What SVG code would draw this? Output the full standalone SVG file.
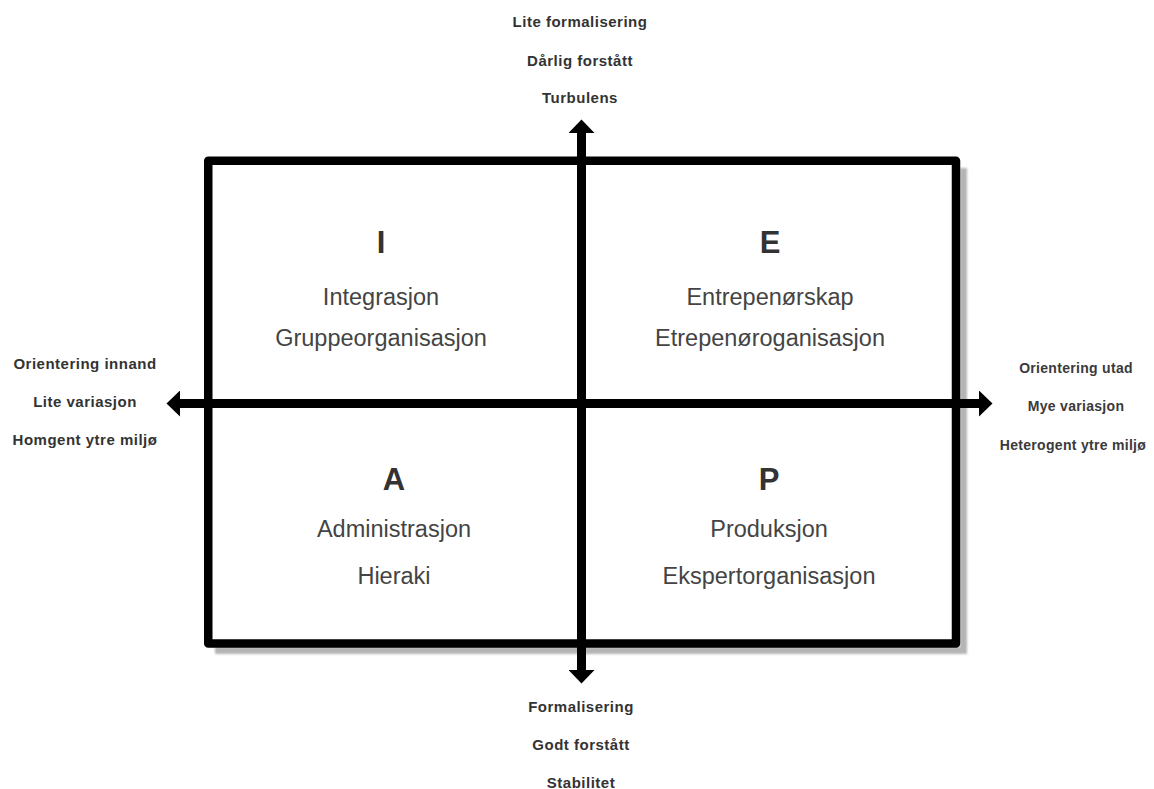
<svg xmlns="http://www.w3.org/2000/svg" width="1154" height="789" viewBox="0 0 1154 789">
<style>
.frame{fill:none;stroke:#000;stroke-width:8.5;stroke-linejoin:round}
.shadow{fill:none;stroke:#b4b4b4;stroke-width:7}
.axis{stroke:#000;stroke-width:9;fill:none}
.letter{font-family:"Liberation Sans",Arial,sans-serif;font-size:31px;font-weight:bold;fill:#333;text-anchor:middle}
.word{font-family:"Liberation Sans",Arial,sans-serif;font-size:23.5px;fill:#444;text-anchor:middle}
.lab{font-family:"Liberation Sans",Arial,sans-serif;font-size:15px;letter-spacing:0.5px;font-weight:bold;fill:#333;text-anchor:middle}
.labr{font-family:"Liberation Sans",Arial,sans-serif;font-size:14px;letter-spacing:0.3px;font-weight:bold;fill:#3a3a3a;text-anchor:middle}
</style>
<defs>
<marker id="arr" markerUnits="userSpaceOnUse" markerWidth="14" markerHeight="26" refX="0" refY="13" orient="auto-start-reverse" viewBox="0 0 14 26">
<path d="M0,0 L13.5,13 L0,26 Z" fill="#000"/>
</marker>
<filter id="blur" x="-5%" y="-5%" width="110%" height="110%"><feGaussianBlur stdDeviation="1"/></filter>
</defs>
<rect width="1154" height="789" fill="#fff"/>
<g id="frame">
<path class="shadow" d="M963.5 168 V650.5 H215" filter="url(#blur)"/>
<rect class="frame" x="208.25" y="160.75" width="747.75" height="482.75"/>
</g>
<g id="connectors">
<line class="axis" x1="581.5" y1="670" x2="581.5" y2="133" marker-start="url(#arr)" marker-end="url(#arr)"/>
<line class="axis" x1="180" y1="403.5" x2="979" y2="403.5" marker-start="url(#arr)" marker-end="url(#arr)"/>
</g>
<g id="quadrant-I">
<text class="letter" x="381" y="253">I</text>
<text class="word" x="381" y="305">Integrasjon</text>
<text class="word" x="381" y="346">Gruppeorganisasjon</text>
</g>
<g id="quadrant-E">
<text class="letter" x="770" y="253">E</text>
<text class="word" x="770" y="305">Entrepenørskap</text>
<text class="word" x="770" y="346">Etrepenøroganisasjon</text>
</g>
<g id="quadrant-A">
<text class="letter" x="394" y="490">A</text>
<text class="word" x="394" y="537">Administrasjon</text>
<text class="word" x="394" y="584">Hieraki</text>
</g>
<g id="quadrant-P">
<text class="letter" x="769" y="490">P</text>
<text class="word" x="769" y="537">Produksjon</text>
<text class="word" x="769" y="584">Ekspertorganisasjon</text>
</g>
<g id="label-top">
<text class="lab" x="580" y="26.5">Lite formalisering</text>
<text class="lab" x="580" y="65.5">Dårlig forstått</text>
<text class="lab" x="580" y="102.5">Turbulens</text>
</g>
<g id="label-bottom">
<text class="lab" x="581" y="711.5">Formalisering</text>
<text class="lab" x="581" y="750">Godt forstått</text>
<text class="lab" x="581" y="788">Stabilitet</text>
</g>
<g id="label-left">
<text class="lab" x="85" y="369">Orientering innand</text>
<text class="lab" x="85" y="407">Lite variasjon</text>
<text class="lab" x="85" y="445">Homgent ytre miljø</text>
</g>
<g id="label-right">
<text class="labr" x="1076" y="373">Orientering utad</text>
<text class="labr" x="1076" y="411">Mye variasjon</text>
<text class="labr" x="1073" y="450">Heterogent ytre miljø</text>
</g>
</svg>
